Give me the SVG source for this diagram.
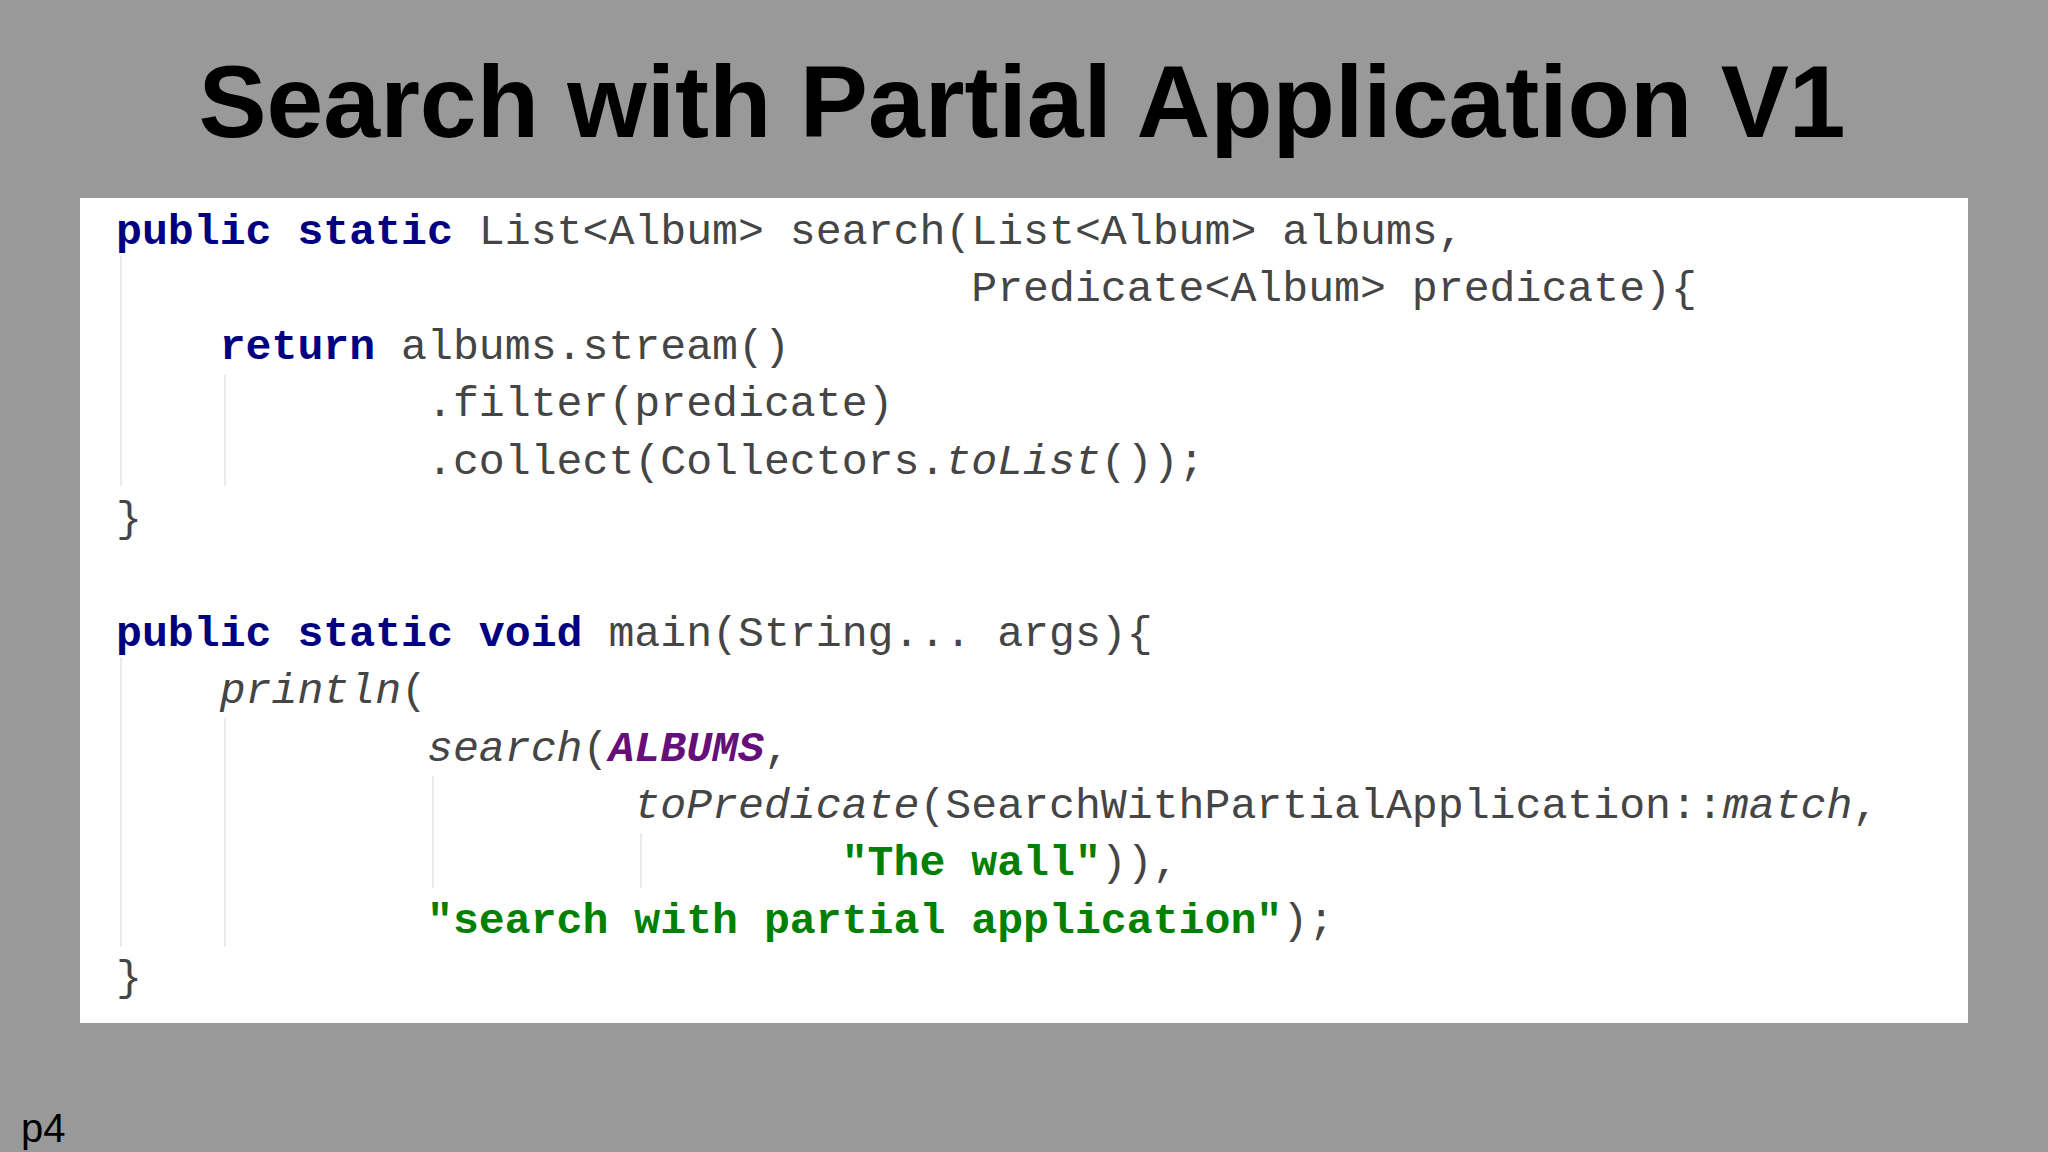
<svg xmlns="http://www.w3.org/2000/svg" width="2048" height="1152" viewBox="0 0 2048 1152">
<style>
.code{font-family:"Liberation Mono","Courier New",monospace;font-size:43.2px;fill:#454545;white-space:pre}
.kw{font-weight:bold;fill:#000080}
.it{font-style:italic}
.str{font-weight:bold;fill:#008000}
.const{font-weight:bold;font-style:italic;fill:#660E7A}
.guide{stroke:#e4e4e4;stroke-width:1.5}
</style>
<rect id="background" x="0" y="0" width="2048" height="1152" fill="#999999"/>
<g id="title">
<text x="1022" y="137" text-anchor="middle" font-family="Liberation Sans, Arial, sans-serif" font-weight="bold" font-size="102" textLength="1647" lengthAdjust="spacingAndGlyphs" fill="#000000">Search with Partial Application V1</text>
</g>
<g id="code-panel">
<rect x="80" y="198" width="1888" height="825" fill="#ffffff"/>
<g id="indent-guides">
<line class="guide" x1="121" y1="255" x2="121" y2="486"/>
<line class="guide" x1="225" y1="375" x2="225" y2="486"/>
<line class="guide" x1="121" y1="657" x2="121" y2="947"/>
<line class="guide" x1="225" y1="718" x2="225" y2="947"/>
<line class="guide" x1="433" y1="776" x2="433" y2="888"/>
<line class="guide" x1="641" y1="833" x2="641" y2="888"/>
</g>
<g id="code" xml:space="preserve">
<text class="code" x="116" y="244"><tspan class="kw">public static</tspan> List&lt;Album&gt; search(List&lt;Album&gt; albums,</text>
<text class="code" x="116" y="301.4">                                 Predicate&lt;Album&gt; predicate){</text>
<text class="code" x="116" y="358.8">    <tspan class="kw">return</tspan> albums.stream()</text>
<text class="code" x="116" y="416.2">            .filter(predicate)</text>
<text class="code" x="116" y="473.6">            .collect(Collectors.<tspan class="it">toList</tspan>());</text>
<text class="code" x="116" y="531">}</text>
<text class="code" x="116" y="645.8"><tspan class="kw">public static void</tspan> main(String... args){</text>
<text class="code" x="116" y="703.2">    <tspan class="it">println</tspan>(</text>
<text class="code" x="116" y="760.6">            <tspan class="it">search</tspan>(<tspan class="const">ALBUMS</tspan>,</text>
<text class="code" x="116" y="818">                    <tspan class="it">toPredicate</tspan>(SearchWithPartialApplication::<tspan class="it">match</tspan>,</text>
<text class="code" x="116" y="875.4">                            <tspan class="str">"The wall"</tspan>)),</text>
<text class="code" x="116" y="932.8">            <tspan class="str">"search with partial application"</tspan>);</text>
<text class="code" x="116" y="990.2">}</text>
</g>
</g>
<g id="page-number">
<text x="21" y="1142" font-family="Liberation Sans, Arial, sans-serif" font-size="40" fill="#000000">p4</text>
</g>
</svg>
